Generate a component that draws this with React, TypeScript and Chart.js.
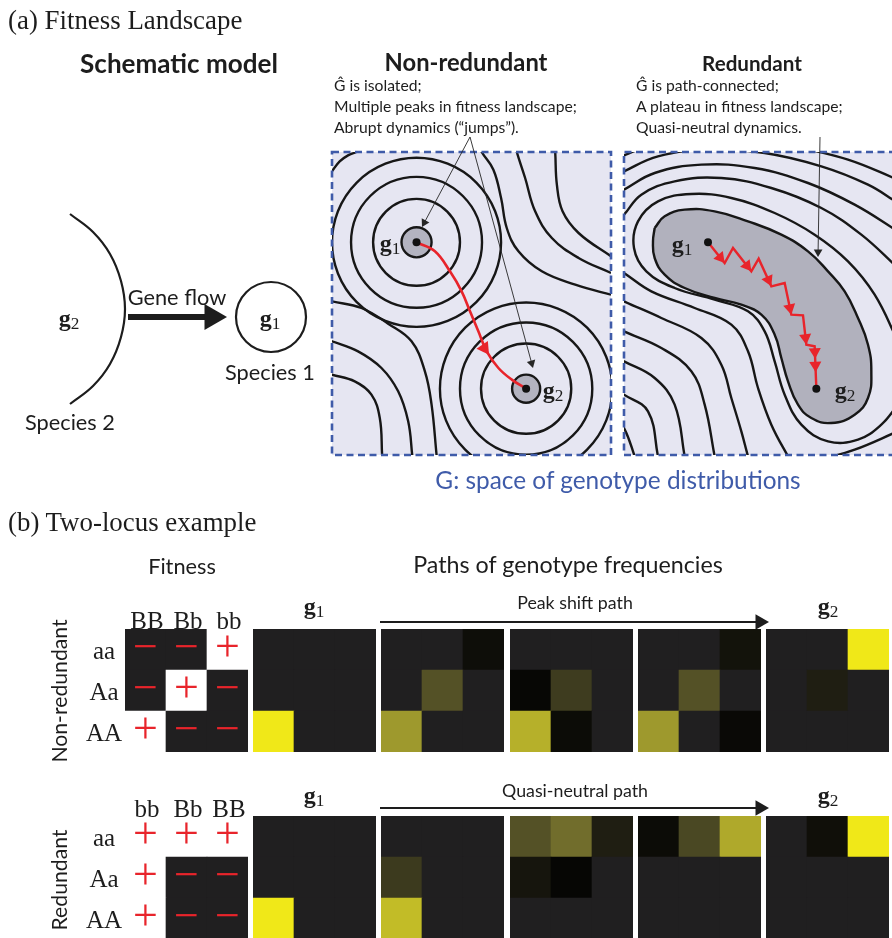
import React, { useEffect, useRef } from "react";
import { Chart, registerables } from "chart.js";
Chart.register(...registerables);

// ---------------- styling constants ----------------
const SANS = "Lato, 'Open Sans', sans-serif";
const SERIF = "'Liberation Serif', 'DejaVu Serif', serif";
const INK = "#1d1d1d";
const LINE_INK = "#171717";
const RED = "#e8242b";
const PANEL_BG = "#e6e6f2";
const FRAME_BLUE = "#3f5ba9";
const CORE_GREY = "#b3b3c0";
const PLATEAU_GREY = "#b1b1bd";
const CELL_DARK = "#201f20";

// ---------------- Part (a): schematic model (page units) ----------------
const species2Arc: number[][] = [
  [70, 214], [93, 232], [110, 254], [121, 281], [125, 309],
  [121, 337], [110, 364], [93, 386], [70, 404],
];
const species1Circle = { x: 271, y: 317, r: 35 };
const geneFlowArrow: number[][] = [[128, 317], [227, 317]];
const annotationArrows: number[][][] = [
  [[470, 137], [422, 227]],
  [[470, 137], [533, 368]],
  [[820, 137], [818, 257]],
];

// ---------------- Non-redundant landscape (landscape units) ----------------
const NR_X = [22, 857];
const NR_Y = [22, 931];
const nrPeaks = [
  { x: 275, y: 293, radii: [130, 196, 253], core: 45 },
  { x: 603, y: 732, radii: [135, 198, 258], core: 42 },
];
const nrContours: number[][][] = [
  [[8, 100], [22, 80], [45, 50], [70, 32], [95, 22], [118, 10]],
  [[465, 5], [470, 22], [505, 75], [528, 160], [545, 250], [580, 320], [650, 380], [750, 420], [857, 450], [880, 455]],
  [[572, 5], [575, 22], [600, 100], [630, 200], [680, 280], [760, 340], [857, 385], [880, 395]],
  [[688, 5], [690, 22], [695, 120], [712, 200], [760, 265], [857, 335], [880, 350]],
  [[5, 465], [22, 470], [110, 490], [190, 537], [260, 590], [300, 680], [320, 780], [335, 931], [337, 950]],
  [[5, 585], [22, 590], [100, 620], [170, 670], [220, 740], [250, 830], [262, 931], [263, 950]],
  [[5, 685], [22, 690], [90, 710], [140, 750], [165, 820], [172, 931], [173, 950]],
];
const nrPath: number[][] = [
  [275, 293], [330, 320], [375, 380], [410, 440], [435, 500], [460, 560],
  [485, 620], [520, 670], [560, 705], [603, 732],
];

// ---------------- Redundant landscape (landscape units) ----------------
const R_X = [28, 832];
const R_Y = [22, 931];
const rPeaks: number[][] = [[280, 293], [605, 732]];
const rPlateau: number[][] = [
  [120, 250], [150, 215], [210, 195], [300, 200], [400, 230], [500, 270], [580, 320],
  [640, 380], [690, 440], [730, 520], [760, 600], [770, 680], [760, 760], [720, 810],
  [650, 835], [590, 820], [550, 780], [520, 710], [500, 640], [480, 570], [440, 510],
  [380, 480], [300, 460], [210, 430], [150, 390], [120, 340], [115, 290], [120, 250],
];
const rContours: number[][][] = [
  [[850, 590], [780, 450], [700, 350], [600, 270], [480, 205], [350, 160], [230, 148], [130, 170], [70, 230], [58, 310], [95, 380], [180, 430], [300, 465], [400, 500], [450, 560], [480, 650], [510, 750], [560, 840], [640, 890], [730, 885], [800, 840], [850, 780]],
  [[10, 225], [28, 210], [80, 150], [180, 110], [320, 100], [470, 130], [620, 190], [740, 270], [850, 370]],
  [[10, 375], [28, 385], [110, 440], [240, 490], [350, 540], [400, 620], [430, 730], [470, 840], [520, 935], [530, 950]],
  [[10, 145], [28, 135], [120, 85], [260, 60], [420, 70], [580, 115], [720, 180], [850, 260]],
  [[10, 460], [28, 470], [140, 520], [260, 580], [320, 660], [350, 760], [380, 860], [400, 935], [405, 950]],
  [[10, 90], [28, 80], [130, 35], [280, 15], [450, 25], [620, 65], [760, 120], [850, 175]],
  [[10, 550], [28, 560], [140, 610], [230, 680], [270, 780], [300, 935], [303, 950]],
  [[10, 40], [28, 32], [80, 12], [120, 5]],
  [[540, 5], [700, 45], [850, 105]],
  [[10, 640], [28, 650], [120, 700], [180, 780], [210, 935], [212, 950]],
  [[10, 740], [28, 750], [100, 800], [130, 935], [132, 950]],
  [[10, 840], [28, 850], [60, 935], [63, 950]],
  [[600, 950], [720, 915], [850, 860]],
];
const rPath: number[][] = [
  [280, 293], [330, 355], [355, 310], [410, 380], [432, 342], [470, 425],
  [510, 415], [530, 510], [565, 512], [575, 600], [600, 605], [605, 730],
];
const rPathHeadSegments = [0, 2, 4, 6, 8, 10];

// ---------------- Part (b): two-locus example ----------------
const rowLabels = ["aa", "Aa", "AA"];
const nrColLabels = ["BB", "Bb", "bb"];
const rColLabels = ["bb", "Bb", "BB"];
const nrFitness: number[][] = [[-1, -1, 1], [-1, 1, -1], [1, -1, -1]];
const rFitness: number[][] = [[1, 1, 1], [1, -1, -1], [1, -1, -1]];
const nrFrames: number[][][] = [
  [[0, 0, 0], [0, 0, 0], [1, 0, 0]],
  [[0, 0, 0.06], [0, 0.35, 0], [0.66, 0, 0]],
  [[0, 0, 0], [0.03, 0.26, 0], [0.76, 0.05, 0]],
  [[0, 0, 0.08], [0, 0.35, 0], [0.66, 0, 0.04]],
  [[0, 0, 1], [0, 0.13, 0], [0, 0, 0]],
];
const rFrames: number[][][] = [
  [[0, 0, 0], [0, 0, 0], [1, 0, 0]],
  [[0, 0, 0], [0.25, 0, 0], [0.81, 0, 0]],
  [[0.35, 0.47, 0.13], [0.09, 0.025, 0], [0, 0, 0]],
  [[0.05, 0.31, 0.73], [0, 0, 0], [0, 0, 0]],
  [[0, 0.065, 1], [0, 0, 0], [0, 0, 0]],
];
const pathArrows: number[][][] = [
  [[380, 622], [769, 622]],
  [[380, 808], [769, 808]],
];

// ---------------- layout ----------------
const MATRIX = 123;
const ROW_TOPS = [629, 816];
const FIT_LEFT = 125;
const FRAME_LEFTS = [253, 381, 510, 638, 766];

// ---------------- helpers ----------------
const pts = (a: number[][]) => a.map(([x, y]) => ({ x, y }));

function arrowHead(from: number[], to: number[], rPx: number, upp: number, t = 1) {
  const dx = to[0] - from[0];
  const dy = to[1] - from[1];
  const len = Math.hypot(dx, dy) || 1;
  const ax = from[0] + dx * t;
  const ay = from[1] + dy * t;
  return {
    x: ax - (dx / len) * rPx * upp,
    y: ay - (dy / len) * rPx * upp,
    rot: (Math.atan2(dx, -dy) * 180) / Math.PI,
  };
}

const unitPx = (chart: any) => {
  const s = chart.scales && chart.scales.x;
  if (!s || !s.width) return 0;
  return Math.abs(s.getPixelForValue(1) - s.getPixelForValue(0));
};

function lineDs(points: number[][], color: string, width: number, order: number, extra: any = {}) {
  return {
    type: "line",
    data: pts(points),
    borderColor: color,
    borderWidth: width,
    pointRadius: 0,
    tension: 0.4,
    capBezierPoints: false,
    fill: false,
    clip: 0,
    order,
    ...extra,
  };
}

function circleDs(points: any[], fillColor: string, stroke: string, width: number, order: number) {
  return {
    type: "scatter",
    data: points,
    pointStyle: "circle",
    pointRadius: (c: any) => (c.raw && c.raw.r ? c.raw.r * unitPx(c.chart) : 0),
    pointBackgroundColor: fillColor,
    pointBorderColor: stroke,
    pointBorderWidth: width,
    clip: 0,
    order,
  };
}

function headDs(points: any[], color: string, rPx: number, order: number) {
  return {
    type: "scatter",
    data: points,
    pointStyle: "triangle",
    pointRadius: rPx,
    pointRotation: (c: any) => (c.raw ? c.raw.rot : 0),
    pointBackgroundColor: color,
    pointBorderWidth: 0,
    clip: 0,
    order,
  };
}

function baseOptions(xr: number[], yr: number[], padding: any) {
  return {
    responsive: false,
    animation: false,
    events: [],
    layout: { padding, autoPadding: false },
    elements: { line: { capBezierPoints: false } },
    plugins: { legend: { display: false }, tooltip: { enabled: false } },
    scales: {
      x: { type: "linear", min: xr[0], max: xr[1], display: false },
      y: { type: "linear", min: yr[0], max: yr[1], reverse: true, display: false },
    },
  };
}

const panelFrame = (openRight: boolean) => ({
  id: "panelFrame",
  beforeDraw(chart: any) {
    const { ctx, chartArea: a } = chart;
    ctx.save();
    ctx.fillStyle = PANEL_BG;
    ctx.fillRect(a.left, a.top, a.right - a.left, a.bottom - a.top);
    ctx.restore();
  },
  afterDraw(chart: any) {
    const { ctx, chartArea: a } = chart;
    ctx.save();
    ctx.strokeStyle = FRAME_BLUE;
    ctx.lineWidth = 2.6;
    ctx.setLineDash([7, 4.5]);
    ctx.beginPath();
    if (openRight) {
      ctx.moveTo(a.right + 4, a.top);
      ctx.lineTo(a.left, a.top);
      ctx.lineTo(a.left, a.bottom);
      ctx.lineTo(a.right + 4, a.bottom);
    } else {
      ctx.moveTo(a.left, a.top);
      ctx.lineTo(a.right, a.top);
      ctx.lineTo(a.right, a.bottom);
      ctx.lineTo(a.left, a.bottom);
      ctx.closePath();
    }
    ctx.stroke();
    ctx.restore();
  },
});

function useChart(make: (el: HTMLCanvasElement) => Chart) {
  const ref = useRef<HTMLCanvasElement>(null);
  useEffect(() => {
    const chart = make(ref.current as HTMLCanvasElement);
    return () => chart.destroy();
  }, []);
  return ref;
}

// ---------------- chart components ----------------
function NonRedundantPanel() {
  const left = 328, top = 148, pad = 4, w = 279, h = 303;
  const upp = (NR_X[1] - NR_X[0]) / w;
  const ref = useChart((el) => {
    const ds: any[] = [];
    nrContours.forEach((c) => ds.push(lineDs(c, LINE_INK, 2.4, 6)));
    const rings = nrPeaks.flatMap((p) => p.radii.map((r) => ({ x: p.x, y: p.y, r })));
    ds.push(circleDs(rings, "rgba(0,0,0,0)", LINE_INK, 2.4, 6));
    ds.push(circleDs(nrPeaks.map((p) => ({ x: p.x, y: p.y, r: p.core })), CORE_GREY, LINE_INK, 2.4, 5));
    ds.push(lineDs(nrPath, RED, 2.6, 3));
    ds.push(headDs([arrowHead(nrPath[6], nrPath[7], 8, upp, 0.2)], RED, 8, 2));
    ds.push(circleDs(nrPeaks.map((p) => ({ x: p.x, y: p.y, r: 12 })), "#111", "#111", 0, 1));
    return new Chart(el, {
      type: "scatter",
      data: { datasets: ds },
      options: baseOptions(NR_X, NR_Y, pad) as any,
      plugins: [panelFrame(false)],
    } as any);
  });
  return (
    <canvas ref={ref} width={w + 2 * pad} height={h + 2 * pad}
      style={{ position: "absolute", left, top, width: w + 2 * pad, height: h + 2 * pad }} />
  );
}

function RedundantPanel() {
  const left = 620, top = 148, w = 268, h = 303;
  const upp = (R_X[1] - R_X[0]) / w;
  const ref = useChart((el) => {
    const ds: any[] = [];
    ds.push(lineDs(rPlateau, LINE_INK, 2.4, 7, { fill: "shape", backgroundColor: PLATEAU_GREY, tension: 0.45 }));
    rContours.forEach((c) => ds.push(lineDs(c, LINE_INK, 2.4, 6)));
    ds.push(lineDs(rPath, RED, 2.4, 3, { tension: 0 }));
    const heads = rPathHeadSegments.map((i) => arrowHead(rPath[i], rPath[i + 1], 7, upp, i === 10 ? 0.62 : 1));
    heads.push(arrowHead(rPath[10], rPath[11], 7, upp, 0.3));
    ds.push(headDs(heads, RED, 7, 2));
    ds.push(circleDs(rPeaks.map(([x, y]) => ({ x, y, r: 12 })), "#111", "#111", 0, 1));
    return new Chart(el, {
      type: "scatter",
      data: { datasets: ds },
      options: baseOptions(R_X, R_Y, { left: 4, top: 4, bottom: 4, right: 0 }) as any,
      plugins: [panelFrame(true)],
    } as any);
  });
  return (
    <canvas ref={ref} width={w + 4} height={h + 8}
      style={{ position: "absolute", left, top, width: w + 4, height: h + 8 }} />
  );
}

function arrowDatasets(from: number[], to: number[], width: number, headR: number, color: string) {
  const dx = to[0] - from[0], dy = to[1] - from[1];
  const len = Math.hypot(dx, dy);
  const end = [to[0] - (dx / len) * headR, to[1] - (dy / len) * headR];
  return [
    lineDs([from, end], color, width, 2, { tension: 0, clip: false }),
    headDs([arrowHead(from, to, headR, 1)], color, headR, 1),
  ];
}

function Overlay() {
  const W = 892, H = 938;
  const ref = useChart((el) => {
    const ds: any[] = [];
    ds.push(lineDs(species2Arc, INK, 2.2, 3, { clip: false }));
    ds.push(circleDs([species1Circle], "rgba(0,0,0,0)", INK, 2.2, 3));
    ds.push(...arrowDatasets(geneFlowArrow[0], geneFlowArrow[1], 6, 15, INK));
    annotationArrows.forEach(([a, b]) => ds.push(...arrowDatasets(a, b, 0.9, 5, "#262626")));
    pathArrows.forEach(([a, b]) => ds.push(...arrowDatasets(a, b, 2, 9, INK)));
    return new Chart(el, {
      type: "scatter",
      data: { datasets: ds },
      options: baseOptions([0, W], [0, H], 0) as any,
    } as any);
  });
  return (
    <canvas ref={ref} width={W} height={H}
      style={{ position: "absolute", left: 0, top: 0, width: W, height: H, pointerEvents: "none" }} />
  );
}

function freqColor(v: number) {
  if (v <= 0) return CELL_DARK;
  const r = Math.round(240 * v);
  const g = Math.round(232 * v);
  const b = Math.round(24 * v + 130 * v * (1 - v));
  return `rgb(${r},${g},${b})`;
}
const fitnessColor = (v: number) => (v > 0 ? "#ffffff" : CELL_DARK);

const signPlugin = {
  id: "signs",
  afterDatasetsDraw(chart: any) {
    const ctx = chart.ctx;
    chart.data.datasets.forEach((d: any, di: number) => {
      if (!d.signs) return;
      chart.getDatasetMeta(di).data.forEach((el: any, j: number) => {
        const fs = 44;
        const cy = (el.y + el.base) / 2;
        ctx.save();
        ctx.fillStyle = RED;
        ctx.font = `${fs}px ${SERIF}`;
        ctx.textAlign = "center";
        ctx.textBaseline = "alphabetic";
        ctx.fillText(d.signs[j] > 0 ? "+" : "\u2212", el.x, cy + 0.253 * fs);
        ctx.restore();
      });
    });
  },
};

function Matrix({ left, top, cols, values, colorOf, showSigns }: any) {
  const ref = useChart((el) => {
    const datasets: any[] = [];
    for (let r = values.length - 1; r >= 0; r--) {
      datasets.push({
        label: rowLabels[r],
        data: values[r].map(() => 1),
        backgroundColor: values[r].map(colorOf),
        signs: showSigns ? values[r] : null,
        borderWidth: 0,
        barPercentage: 1,
        categoryPercentage: 1,
      });
    }
    return new Chart(el, {
      type: "bar",
      data: { labels: cols, datasets },
      options: {
        responsive: false,
        animation: false,
        events: [],
        layout: { padding: 0, autoPadding: false },
        plugins: { legend: { display: false }, tooltip: { enabled: false } },
        scales: {
          x: { type: "category", stacked: true, display: false },
          y: { type: "linear", stacked: true, min: 0, max: values.length, display: false },
        },
      } as any,
      plugins: [signPlugin],
    } as any);
  });
  return (
    <canvas ref={ref} width={MATRIX} height={MATRIX}
      style={{ position: "absolute", left, top, width: MATRIX, height: MATRIX }} />
  );
}

// ---------------- text helpers ----------------
let measureCtx: CanvasRenderingContext2D | null = null;
function fitSize(text: string, family: string, weight: number, width: number) {
  if (!measureCtx) measureCtx = document.createElement("canvas").getContext("2d");
  const c = measureCtx as CanvasRenderingContext2D;
  c.font = `${weight} 100px ${family}`;
  const w = c.measureText(text).width || 1;
  return (100 * width) / w;
}

function Label({ text, x, y, w, size, family = SANS, weight = 400, color = INK, align = "center", rotate = 0 }: any) {
  const fs = size ?? fitSize(text, family, weight, w);
  const tx = align === "center" ? "-50%" : "0";
  return (
    <div style={{
      position: "absolute", left: x, top: y, fontFamily: family, fontWeight: weight,
      fontSize: fs, color, lineHeight: 1, whiteSpace: "pre",
      transform: `translate(${tx}, -50%) rotate(${rotate}deg)`,
    }}>{text}</div>
  );
}

function G({ i, x, y, size = 24 }: any) {
  return (
    <div style={{
      position: "absolute", left: x, top: y, transform: "translate(-50%, -50%)",
      fontFamily: SERIF, fontSize: size, lineHeight: 1, color: INK, whiteSpace: "nowrap",
    }}>
      <span style={{ fontWeight: 700 }}>g</span>
      <span style={{ fontSize: "0.72em", position: "relative", top: "0.18em" }}>{i}</span>
    </div>
  );
}

// ---------------- App ----------------
export default function App() {
  const annSize = fitSize("Multiple peaks in fitness landscape;", SANS, 400, 243);
  const bodySize = fitSize("Species 1", SANS, 400, 90);
  const pathSize = fitSize("Quasi-neutral path", SANS, 400, 146);
  const vertSize = fitSize("Redundant", SANS, 400, 101);
  const serifHead = fitSize("(b) Two-locus example", SERIF, 400, 249);
  const nrAnn = ["\u011C is isolated;", "Multiple peaks in fitness landscape;", "Abrupt dynamics (\u201Cjumps\u201D)."];
  const rAnn = ["\u011C is path-connected;", "A plateau in fitness landscape;", "Quasi-neutral dynamics."];
  const annY = [86, 107, 128];
  const cellCenters = (l: number) => [0, 1, 2].map((k) => l + 41 * k + 20.5);

  return (
    <div style={{ position: "absolute", left: 0, top: 0, width: 892, height: 938, overflow: "hidden", background: "#fff" }}>
      <NonRedundantPanel />
      <RedundantPanel />
      <Overlay />

      {/* Part (b) matrices */}
      <Matrix left={FIT_LEFT} top={ROW_TOPS[0]} cols={nrColLabels} values={nrFitness} colorOf={fitnessColor} showSigns />
      <Matrix left={FIT_LEFT} top={ROW_TOPS[1]} cols={rColLabels} values={rFitness} colorOf={fitnessColor} showSigns />
      {nrFrames.map((f, i) => (
        <Matrix key={"n" + i} left={FRAME_LEFTS[i]} top={ROW_TOPS[0]} cols={nrColLabels} values={f} colorOf={freqColor} />
      ))}
      {rFrames.map((f, i) => (
        <Matrix key={"r" + i} left={FRAME_LEFTS[i]} top={ROW_TOPS[1]} cols={rColLabels} values={f} colorOf={freqColor} />
      ))}

      {/* Headings */}
      <Label text="(a) Fitness Landscape" x={8} y={20} size={serifHead} family={SERIF} align="left" />
      <Label text="Schematic model" x={179} y={63} w={198} weight={700} />
      <Label text="Non-redundant" x={466} y={63} w={163} weight={700} />
      <Label text="Redundant" x={752} y={63} w={100} weight={700} />
      {nrAnn.map((t, i) => <Label key={"na" + i} text={t} x={334} y={annY[i]} size={annSize} align="left" />)}
      {rAnn.map((t, i) => <Label key={"ra" + i} text={t} x={636} y={annY[i]} size={annSize} align="left" />)}

      {/* Schematic labels */}
      <Label text="Gene flow" x={177} y={298} size={bodySize} />
      <Label text="Species 1" x={270} y={373} size={bodySize} />
      <Label text="Species 2" x={70} y={423} size={bodySize} />
      <G i="2" x={69} y={318} />
      <G i="1" x={270} y={318} />
      <G i="1" x={390} y={243} size={24} />
      <G i="2" x={553} y={390} size={24} />
      <G i="1" x={682} y={244} size={24} />
      <G i="2" x={845} y={390} size={24} />
      <Label text="G: space of genotype distributions" x={618} y={480} w={366} color={FRAME_BLUE} />

      {/* Part (b) */}
      <Label text="(b) Two-locus example" x={8} y={522} size={serifHead} family={SERIF} align="left" />
      <Label text="Fitness" x={182} y={567} size={bodySize} />
      <Label text="Paths of genotype frequencies" x={568} y={565} w={310} />
      <Label text="Peak shift path" x={575} y={603} size={pathSize} />
      <Label text="Quasi-neutral path" x={575} y={791} size={pathSize} />
      <G i="1" x={314} y={606} />
      <G i="2" x={828} y={606} />
      <G i="1" x={314} y={795} />
      <G i="2" x={828} y={795} />
      <Label text="Non-redundant" x={60} y={691} size={vertSize} rotate={-90} />
      <Label text="Redundant" x={60} y={880} size={vertSize} rotate={-90} />
      {nrColLabels.map((t, i) => <Label key={"nc" + i} text={t} x={cellCenters(FIT_LEFT)[i] + 1.5} y={620} size={25} family={SERIF} />)}
      {rColLabels.map((t, i) => <Label key={"rc" + i} text={t} x={cellCenters(FIT_LEFT)[i] + 1.5} y={808} size={25} family={SERIF} />)}
      {rowLabels.map((t, i) => <Label key={"nr" + i} text={t} x={104} y={ROW_TOPS[0] + 41 * i + 20.5} size={25} family={SERIF} />)}
      {rowLabels.map((t, i) => <Label key={"rr" + i} text={t} x={104} y={ROW_TOPS[1] + 41 * i + 20.5} size={25} family={SERIF} />)}
    </div>
  );
}
